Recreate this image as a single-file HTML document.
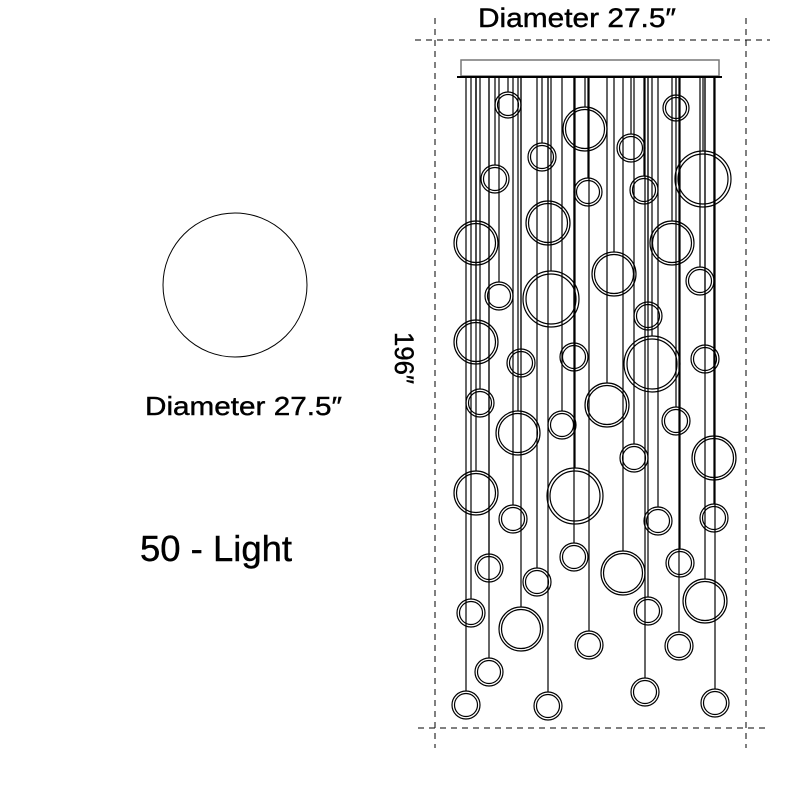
<!DOCTYPE html>
<html><head><meta charset="utf-8"><style>html,body{margin:0;padding:0;background:#fff}svg{display:block}</style></head>
<body>
<svg width="800" height="800" viewBox="0 0 800 800" xmlns="http://www.w3.org/2000/svg" font-family="Liberation Sans, sans-serif">
<rect width="800" height="800" fill="#fff"/>
<g stroke="#000" stroke-width="1" stroke-dasharray="6,5" fill="none">
<line x1="415" y1="40" x2="770" y2="40"/>
<line x1="418" y1="728" x2="765" y2="728"/>
<line x1="435" y1="18" x2="435" y2="748"/>
<line x1="746" y1="18" x2="746" y2="748"/>
</g>
<g stroke="#000" stroke-width="0.4">
<text x="478" y="27" font-size="27" textLength="198" lengthAdjust="spacingAndGlyphs">Diameter 27.5″</text>
<text transform="translate(395,332) rotate(90)" font-size="27" textLength="52" lengthAdjust="spacingAndGlyphs">196″</text>
<text x="145" y="415" font-size="26" textLength="197" lengthAdjust="spacingAndGlyphs">Diameter 27.5″</text>
<text x="140" y="561" font-size="36" textLength="152" lengthAdjust="spacingAndGlyphs">50 - Light</text>
</g>
<circle cx="235" cy="285" r="72" fill="none" stroke="#000" stroke-width="1"/>
<rect x="461" y="60" width="258" height="16" fill="#fff" stroke="#777" stroke-width="1.5"/>
<line x1="457" y1="77" x2="722" y2="77" stroke="#000" stroke-width="2"/>
<g stroke="#000" stroke-width="1.2" fill="none">
<line x1="508" y1="77" x2="508" y2="92"/><circle cx="508" cy="105" r="13"/><circle cx="508" cy="105" r="10.5"/>
<line x1="585" y1="77" x2="585" y2="107"/><circle cx="585" cy="129" r="22"/><circle cx="585" cy="129" r="19.5"/>
<line x1="676" y1="77" x2="676" y2="95"/><circle cx="676" cy="108" r="13"/><circle cx="676" cy="108" r="10.5"/>
<line x1="542" y1="77" x2="542" y2="143"/><circle cx="542" cy="157" r="14"/><circle cx="542" cy="157" r="11.5"/>
<line x1="631" y1="77" x2="631" y2="134"/><circle cx="631" cy="148" r="14"/><circle cx="631" cy="148" r="11.5"/>
<line x1="495" y1="77" x2="495" y2="165"/><circle cx="495" cy="179" r="14"/><circle cx="495" cy="179" r="11.5"/>
<line x1="588" y1="77" x2="588" y2="178"/><circle cx="588" cy="192" r="14"/><circle cx="588" cy="192" r="11.5"/>
<line x1="644" y1="77" x2="644" y2="176"/><circle cx="644" cy="190" r="14"/><circle cx="644" cy="190" r="11.5"/>
<line x1="703" y1="77" x2="703" y2="151"/><circle cx="703" cy="179" r="28"/><circle cx="703" cy="179" r="25"/>
<line x1="476" y1="77" x2="476" y2="221"/><circle cx="476" cy="243" r="22"/><circle cx="476" cy="243" r="19.5"/>
<line x1="548" y1="77" x2="548" y2="201"/><circle cx="548" cy="223" r="22"/><circle cx="548" cy="223" r="19.5"/>
<line x1="672" y1="77" x2="672" y2="221"/><circle cx="672" cy="243" r="22"/><circle cx="672" cy="243" r="19.5"/>
<line x1="614" y1="77" x2="614" y2="252"/><circle cx="614" cy="274" r="22"/><circle cx="614" cy="274" r="19.5"/>
<line x1="499" y1="77" x2="499" y2="282"/><circle cx="499" cy="296" r="14"/><circle cx="499" cy="296" r="11.5"/>
<line x1="551" y1="77" x2="551" y2="271"/><circle cx="551" cy="299" r="28"/><circle cx="551" cy="299" r="25"/>
<line x1="700" y1="77" x2="700" y2="267"/><circle cx="700" cy="281" r="14"/><circle cx="700" cy="281" r="11.5"/>
<line x1="648" y1="77" x2="648" y2="302"/><circle cx="648" cy="316" r="14"/><circle cx="648" cy="316" r="11.5"/>
<line x1="476" y1="77" x2="476" y2="320"/><circle cx="476" cy="342" r="22"/><circle cx="476" cy="342" r="19.5"/>
<line x1="521" y1="77" x2="521" y2="349"/><circle cx="521" cy="363" r="14"/><circle cx="521" cy="363" r="11.5"/>
<line x1="574" y1="77" x2="574" y2="343"/><circle cx="574" cy="357" r="14"/><circle cx="574" cy="357" r="11.5"/>
<line x1="652" y1="77" x2="652" y2="336"/><circle cx="652" cy="364" r="28"/><circle cx="652" cy="364" r="25"/>
<line x1="705" y1="77" x2="705" y2="345"/><circle cx="705" cy="359" r="14"/><circle cx="705" cy="359" r="11.5"/>
<line x1="480" y1="77" x2="480" y2="389"/><circle cx="480" cy="403" r="14"/><circle cx="480" cy="403" r="11.5"/>
<line x1="607" y1="77" x2="607" y2="383"/><circle cx="607" cy="405" r="22"/><circle cx="607" cy="405" r="19.5"/>
<line x1="518" y1="77" x2="518" y2="411"/><circle cx="518" cy="433" r="22"/><circle cx="518" cy="433" r="19.5"/>
<line x1="562" y1="77" x2="562" y2="411"/><circle cx="562" cy="425" r="14"/><circle cx="562" cy="425" r="11.5"/>
<line x1="676" y1="77" x2="676" y2="407"/><circle cx="676" cy="421" r="14"/><circle cx="676" cy="421" r="11.5"/>
<line x1="634" y1="77" x2="634" y2="444"/><circle cx="634" cy="458" r="14"/><circle cx="634" cy="458" r="11.5"/>
<line x1="714" y1="77" x2="714" y2="436"/><circle cx="714" cy="458" r="22"/><circle cx="714" cy="458" r="19.5"/>
<line x1="476" y1="77" x2="476" y2="471"/><circle cx="476" cy="493" r="22"/><circle cx="476" cy="493" r="19.5"/>
<line x1="575" y1="77" x2="575" y2="468"/><circle cx="575" cy="496" r="28"/><circle cx="575" cy="496" r="25"/>
<line x1="513" y1="77" x2="513" y2="505"/><circle cx="513" cy="519" r="14"/><circle cx="513" cy="519" r="11.5"/>
<line x1="658" y1="77" x2="658" y2="507"/><circle cx="658" cy="521" r="14"/><circle cx="658" cy="521" r="11.5"/>
<line x1="714" y1="77" x2="714" y2="504"/><circle cx="714" cy="518" r="14"/><circle cx="714" cy="518" r="11.5"/>
<line x1="489" y1="77" x2="489" y2="554"/><circle cx="489" cy="568" r="14"/><circle cx="489" cy="568" r="11.5"/>
<line x1="537" y1="77" x2="537" y2="568"/><circle cx="537" cy="582" r="14"/><circle cx="537" cy="582" r="11.5"/>
<line x1="574" y1="77" x2="574" y2="543"/><circle cx="574" cy="557" r="14"/><circle cx="574" cy="557" r="11.5"/>
<line x1="623" y1="77" x2="623" y2="551"/><circle cx="623" cy="573" r="22"/><circle cx="623" cy="573" r="19.5"/>
<line x1="680" y1="77" x2="680" y2="549"/><circle cx="680" cy="563" r="14"/><circle cx="680" cy="563" r="11.5"/>
<line x1="471" y1="77" x2="471" y2="599"/><circle cx="471" cy="613" r="14"/><circle cx="471" cy="613" r="11.5"/>
<line x1="521" y1="77" x2="521" y2="607"/><circle cx="521" cy="629" r="22"/><circle cx="521" cy="629" r="19.5"/>
<line x1="648" y1="77" x2="648" y2="597"/><circle cx="648" cy="611" r="14"/><circle cx="648" cy="611" r="11.5"/>
<line x1="705" y1="77" x2="705" y2="579"/><circle cx="705" cy="601" r="22"/><circle cx="705" cy="601" r="19.5"/>
<line x1="589" y1="77" x2="589" y2="631"/><circle cx="589" cy="645" r="14"/><circle cx="589" cy="645" r="11.5"/>
<line x1="679" y1="77" x2="679" y2="632"/><circle cx="679" cy="646" r="14"/><circle cx="679" cy="646" r="11.5"/>
<line x1="489" y1="77" x2="489" y2="658"/><circle cx="489" cy="672" r="14"/><circle cx="489" cy="672" r="11.5"/>
<line x1="466" y1="77" x2="466" y2="691"/><circle cx="466" cy="705" r="14"/><circle cx="466" cy="705" r="11.5"/>
<line x1="548" y1="77" x2="548" y2="692"/><circle cx="548" cy="706" r="14"/><circle cx="548" cy="706" r="11.5"/>
<line x1="645" y1="77" x2="645" y2="678"/><circle cx="645" cy="692" r="14"/><circle cx="645" cy="692" r="11.5"/>
<line x1="715" y1="77" x2="715" y2="689"/><circle cx="715" cy="703" r="14"/><circle cx="715" cy="703" r="11.5"/>
</g>
</svg>
</body></html>
